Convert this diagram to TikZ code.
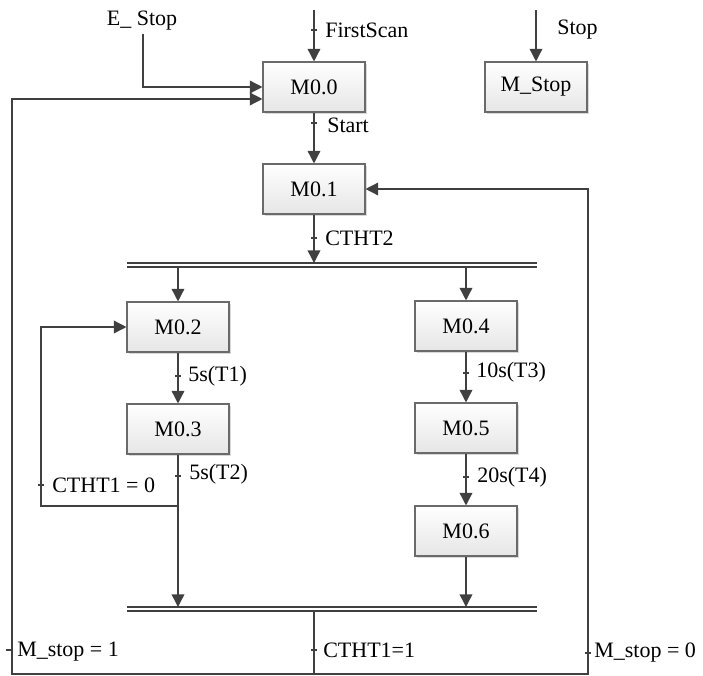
\documentclass[tikz,border=0pt]{standalone}
\usepackage{fontspec}
\setmainfont{Liberation Serif}
\usetikzlibrary{arrows.meta,calc,shadows}
\definecolor{ln}{HTML}{404040}
\definecolor{bx}{HTML}{6A6A6A}
\tikzset{
  stepbox/.style={draw=bx, line width=0.8pt, top color=white, bottom color=black!10,
    minimum width=76.5pt, minimum height=37.5pt, inner sep=0pt,
    drop shadow={shadow xshift=1.5pt, shadow yshift=-1.5pt, fill=black!25, opacity=0.6},
    font=\fontsize{16.5}{18}\selectfont},
  lbl/.style={anchor=west, inner sep=0pt, font=\fontsize{16.5}{18}\selectfont},
  conn/.style={draw=ln, line width=1.1pt},
  arr/.style={conn, -{Triangle[length=9.5pt, width=9.5pt]}},
  tick/.style={draw=ln, line width=0.8pt},
  bar/.style={draw=ln, line width=1.1pt}
}
\begin{document}
\begin{tikzpicture}[x=0.75pt, y=-0.75pt]
\useasboundingbox (0,0) rectangle (703,675);
% boxes
\node[stepbox] (m00) at (314,87) {M0.0};
\node[stepbox] (mst) at (536,87) {M\_Stop};
\node[stepbox] (m01) at (314,189) {M0.1};
\node[stepbox] (m02) at (178,327) {M0.2};
\node[stepbox] (m03) at (178,429) {M0.3};
\node[stepbox] (m04) at (466,326) {M0.4};
\node[stepbox] (m05) at (466,428) {M0.5};
\node[stepbox] (m06) at (466,531) {M0.6};
% coordinates
\coordinate (fs) at (314,10);
\coordinate (st) at (536,10);
\coordinate (b1L) at (127,263);
\coordinate (b1R) at (537,263);
\coordinate (b1La) at (127,267);
\coordinate (b1Ra) at (537,267);
\coordinate (b2L) at (127,607);
\coordinate (b2R) at (537,607);
\coordinate (b2La) at (127,611);
\coordinate (b2Ra) at (537,611);
\coordinate (b1c) at (314,263);
\coordinate (b1l) at (178,267);
\coordinate (b1r) at (466,267);
\coordinate (b2l) at (178,607);
\coordinate (b2r) at (466,607);
\coordinate (b2c) at (314,611);
\coordinate (bot) at (314,674);
\coordinate (lx) at (12,674);
\coordinate (rx) at (588,674);
\coordinate (lp) at (178,506);
\coordinate (lpx) at (41,506);
% bars
\draw[bar] (b1L) -- (b1R);
\draw[bar] (b1La) -- (b1Ra);
\draw[bar] (b2L) -- (b2R);
\draw[bar] (b2La) -- (b2Ra);
% labels
\node[lbl, anchor=center] (estop) at (142,21) {E\_ Stop};
\node[lbl] (lfs) at (325,30) {FirstScan};
\node[lbl] (lst) at (557,30) {Stop};
\node[lbl] (lstart) at (327,125) {Start};
\node[lbl] (lc2) at (325,238) {CTHT2};
\node[lbl] (lt1) at (188,376) {5s(T1)};
\node[lbl] (lt2) at (189,474) {5s(T2)};
\node[lbl] (lc10) at (52,485) {CTHT1 = 0};
\node[lbl] (lt3) at (476,372) {10s(T3)};
\node[lbl] (lt4) at (477,477) {20s(T4)};
\node[lbl] (lms1) at (17,652) {M\_stop = 1};
\node[lbl] (lc11) at (323,650) {CTHT1=1};
\node[lbl] (lms0) at (594,653) {M\_stop = 0};
% connectors
\draw[arr] (fs) -- (m00.north);
\draw[arr] (st) -- (mst.north);
\draw[arr] ([yshift=-2pt]estop.south -| 143,0) |- (m00.west);
\draw[arr] (m00.south) -- (m01.north);
\draw[arr] (m01.south) -- (b1c);
\draw[arr] (b1l) -- (m02.north);
\draw[arr] (b1r) -- (m04.north);
\draw[arr] (m02.south) -- (m03.north);
\draw[arr] (m03.south) -- (b2l);
\draw[arr] (lp) -- (lpx) |- (m02.west);
\draw[arr] (m04.south) -- (m05.north);
\draw[arr] (m05.south) -- (m06.north);
\draw[arr] (m06.south) -- (b2r);
\draw[conn] (b2c) -- (bot);
\draw[arr] (bot) -- (lx) |- ($(m00.west)+(0,12)$);
\draw[arr] (bot) -- (rx) |- (m01.east);
% ticks
\draw[tick] (311,30) -- (317,30);
\draw[tick] (311,123) -- (317,123);
\draw[tick] (311,238) -- (317,238);
\draw[tick] (175,376) -- (181,376);
\draw[tick] (175,476) -- (181,476);
\draw[tick] (38,485) -- (44,485);
\draw[tick] (463,373) -- (469,373);
\draw[tick] (463,477) -- (469,477);
\draw[tick] (6,650) -- (12,650);
\draw[tick] (311,650) -- (317,650);
\draw[tick] (585,653) -- (591,653);
\end{tikzpicture}
\end{document}
